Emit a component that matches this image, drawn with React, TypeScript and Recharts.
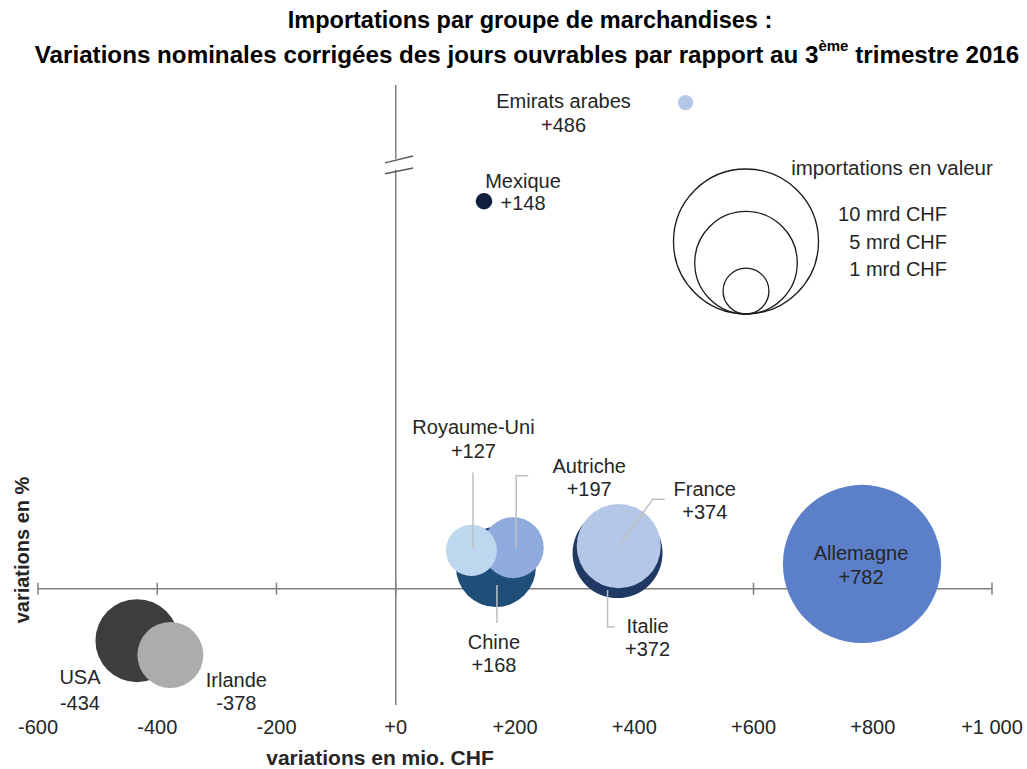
import { ReferenceLine, Scatter, ScatterChart, XAxis, YAxis, ZAxis } from "recharts";

// importations par pays : variation en mio. CHF, variation en %, volume en mrd CHF
const countries = [
  "USA",
  "Irlande",
  "Chine",
  "Autriche",
  "Royaume-Uni",
  "Italie",
  "France",
  "Allemagne",
  "Mexique",
  "Emirats arabes",
];
const changeMio = [-434, -378, 168, 197, 127, 372, 374, 782, 148, 486];
const changePct = [-13.4, -17.1, 5.6, 10.6, 9.9, 9.2, 11.0, 6.4, 100, 470];
const importsMrd = [3.28, 2.07, 3.04, 1.77, 1.24, 3.85, 3.36, 11.9, 0.13, 0.11];

const colors = [
  "#3d3d3d",
  "#aeabab",
  "#1f4e79",
  "#8faadc",
  "#bdd7ee",
  "#203864",
  "#b4c7e7",
  "#5b80c9",
  "#0f1f3d",
  "#b4c7e7",
];

const xTicks = [-600, -400, -200, 0, 200, 400, 600, 800, 1000];
const yTicks = [-30, 30, 90, 500];
const legendSizes = [10, 5, 1];

// layout
const W = 1027;
const H = 769;
const PLOT_LEFT = 38;
const PLOT_RIGHT = 992;
const PLOT_TOP = 85;
const PLOT_BOTTOM = 705;
const X_MIN = -600;
const X_MAX = 1000;
const Y_MIN = -30;
const Y_MAX = 130;
const MAX_R = 72.5; // rayon d'une bulle de 10 mrd
const REF_Z = 10;
const zMax = Math.max(...importsMrd);

// axe coupé : linéaire jusqu'à BREAK, compressé au-dessus
const BREAK = 108;
const BREAK_TOP_DISPLAY = 126.9;
const BREAK_TOP_VALUE = 500;
const toAxis = (p: number) =>
  p <= BREAK ? p : BREAK + ((p - BREAK) * (BREAK_TOP_DISPLAY - BREAK)) / (BREAK_TOP_VALUE - BREAK);

const zeroX = PLOT_LEFT + ((0 - X_MIN) / (X_MAX - X_MIN)) * (PLOT_RIGHT - PLOT_LEFT);

const FONT = "'Liberation Sans', Arial, sans-serif";
const TEXT = "#262626";
const AXIS = "#808080";
const LEADER = "#bfbfbf";

const fmtMio = (v: number) => (v > 0 ? `+${v}` : `${v}`);
const fmtTick = (v: number) => {
  const a = Math.abs(v);
  const s = a >= 1000 ? `${Math.floor(a / 1000)} ${String(a % 1000).padStart(3, "0")}` : `${a}`;
  return v < 0 ? `-${s}` : `+${s}`;
};

const data = countries.map((name, i) => ({
  name,
  mio: changeMio[i],
  pct: toAxis(changePct[i]),
  size: importsMrd[i],
  color: colors[i],
}));

// ligne du zéro avec ses graduations, dessinée sous les bulles
const zeroLine = xTicks.map((t) => ({ mio: t, pct: 0 }));

// position des étiquettes par rapport au centre de la bulle
const labelLayout: Record<string, { dx: number; dy: [number, number]; leader?: [number, number][] }> = {
  USA: { dx: -57, dy: [36, 62] },
  Irlande: { dx: 66, dy: [25, 48] },
  Chine: { dx: -2, dy: [75, 98], leader: [[1, 18], [1, 56]] },
  Autriche: { dx: 76, dy: [-82, -59], leader: [[3, 0], [3, -72], [15, -72]] },
  "Royaume-Uni": { dx: 2, dy: [-123, -99], leader: [[1.5, -2], [1.5, -78]] },
  Italie: { dx: 30, dy: [73, 96], leader: [[-10, 37], [-10, 74], [-3, 74]] },
  France: { dx: 86, dy: [-57, -34], leader: [[1, -1], [34, -47], [46, -47]] },
  Allemagne: { dx: -1, dy: [-11, 13] },
  Mexique: { dx: 39, dy: [-20, 2] },
  "Emirats arabes": { dx: -122, dy: [-2, 22] },
};

const Bubble = (props: any) => {
  const { cx, cy, size, width, payload } = props;
  const r = width ? width / 2 : Math.sqrt(Math.max(size, 0) / Math.PI);
  return <circle cx={cx} cy={cy} r={r} fill={payload.color} />;
};

const TickMark = (props: any) => {
  const { cx, cy } = props;
  return <line x1={cx} x2={cx} y1={cy - 6} y2={cy + 6} stroke={AXIS} strokeWidth={1.5} />;
};

const BubbleLabel = (props: any) => {
  const { cx, cy, payload } = props;
  const l = labelLayout[payload.name];
  if (!l) return <g />;
  return (
    <g>
      {l.leader && (
        <polyline
          points={l.leader.map(([a, b]) => `${cx + a},${cy + b}`).join(" ")}
          fill="none"
          stroke={LEADER}
          strokeWidth={1.5}
        />
      )}
      <text x={cx + l.dx} y={cy + l.dy[0]} textAnchor="middle" dominantBaseline="central" fontSize={20} fill={TEXT} fontFamily={FONT}>
        {payload.name}
      </text>
      <text x={cx + l.dx} y={cy + l.dy[1]} textAnchor="middle" dominantBaseline="central" fontSize={20} fill={TEXT} fontFamily={FONT}>
        {fmtMio(payload.mio)}
      </text>
    </g>
  );
};

const XTick = (props: any) => {
  const { x, payload } = props;
  return (
    <text x={x} y={PLOT_BOTTOM + 22} textAnchor="middle" dominantBaseline="central" fontSize={20} fill={TEXT} fontFamily={FONT}>
      {fmtTick(payload.value)}
    </text>
  );
};

const YTick = (props: any) => {
  const { y, payload } = props;
  const v = payload.value as number;
  const label = v > BREAK ? `${BREAK_TOP_VALUE}%` : `${v}%`;
  return (
    <g>
      {v <= BREAK && <line x1={zeroX - 6} x2={zeroX + 6} y1={y} y2={y} stroke={AXIS} strokeWidth={1.5} />}
      <text x={zeroX - 15} y={y} textAnchor="end" dominantBaseline="central" fontSize={20} fill={TEXT} fontFamily={FONT}>
        {label}
      </text>
    </g>
  );
};

const Overlay = () => {
  const legendCx = 746;
  const legendBottom = 314;
  return (
    <svg width={W} height={H} style={{ position: "absolute", left: 0, top: 0, pointerEvents: "none" }} fontFamily={FONT}>
      <text x={530} y={20} textAnchor="middle" dominantBaseline="central" fontSize={23.5} fontWeight="bold" fill="#000">
        Importations par groupe de marchandises :
      </text>
      <text x={527} y={54} textAnchor="middle" dominantBaseline="central" fontSize={24.2} fontWeight="bold" fill="#000">
        Variations nominales corrigées des jours ouvrables par rapport au 3
        <tspan fontSize={15} dy={-9}>ème</tspan>
        <tspan dy={9}> trimestre 2016</tspan>
      </text>
      <text x={380} y={757} textAnchor="middle" dominantBaseline="central" fontSize={21} fontWeight="bold" fill={TEXT}>
        variations en mio. CHF
      </text>
      <text
        x={22}
        y={550}
        transform="rotate(-90 22 550)"
        textAnchor="middle"
        dominantBaseline="central"
        fontSize={20}
        fontWeight="bold"
        fill={TEXT}
      >
        variations en %
      </text>
      {legendSizes.map((v) => {
        const r = Math.sqrt(v / REF_Z) * MAX_R;
        return <circle key={v} cx={legendCx} cy={legendBottom - r} r={r} fill="none" stroke="#1a1a1a" strokeWidth={1.3} />;
      })}
      <text x={892} y={167} textAnchor="middle" dominantBaseline="central" fontSize={20.5} fill={TEXT}>
        importations en valeur
      </text>
      {legendSizes.map((v, i) => (
        <text key={v} x={947} y={214 + i * 27.5} textAnchor="end" dominantBaseline="central" fontSize={20} fill={TEXT}>
          {`${v} mrd CHF`}
        </text>
      ))}
    </svg>
  );
};

export default function App() {
  return (
    <div style={{ position: "absolute", left: 0, top: 0, width: W, height: H, background: "#fff" }}>
      <ScatterChart
        width={W}
        height={H}
        margin={{ top: PLOT_TOP, right: W - PLOT_RIGHT, bottom: H - PLOT_BOTTOM - 40, left: PLOT_LEFT }}
      >
        <XAxis
          type="number"
          dataKey="mio"
          domain={[X_MIN, X_MAX]}
          ticks={xTicks}
          interval={0}
          axisLine={false}
          tickLine={false}
          height={40}
          tick={(p: any) => <XTick {...p} />}
        />
        <YAxis
          type="number"
          dataKey="pct"
          domain={[Y_MIN, Y_MAX]}
          ticks={yTicks.map(toAxis)}
          interval={0}
          axisLine={false}
          tickLine={false}
          width={0}
          tick={(p: any) => <YTick {...p} />}
        />
        <ZAxis
          type="number"
          dataKey="size"
          domain={[0, zMax]}
          range={[0, (Math.PI * MAX_R * MAX_R * zMax) / REF_Z]}
        />
        <ReferenceLine segment={[{ x: 0, y: Y_MIN }, { x: 0, y: 108.1 }]} stroke={AXIS} strokeWidth={1.5} />
        <ReferenceLine segment={[{ x: 0, y: 110.9 }, { x: 0, y: Y_MAX }]} stroke={AXIS} strokeWidth={1.5} />
        <ReferenceLine segment={[{ x: -18, y: 109.9 }, { x: 29, y: 111.7 }]} stroke="#595959" strokeWidth={1.5} />
        <ReferenceLine segment={[{ x: -18, y: 107.1 }, { x: 29, y: 108.6 }]} stroke="#595959" strokeWidth={1.5} />
        <Scatter
          data={zeroLine}
          line={{ stroke: AXIS, strokeWidth: 1.5 }}
          shape={(p: any) => <TickMark {...p} />}
          isAnimationActive={false}
        />
        <Scatter data={data} shape={(p: any) => <Bubble {...p} />} isAnimationActive={false} />
        <Scatter data={data} shape={(p: any) => <BubbleLabel {...p} />} isAnimationActive={false} />
      </ScatterChart>
      <Overlay />
    </div>
  );
}
